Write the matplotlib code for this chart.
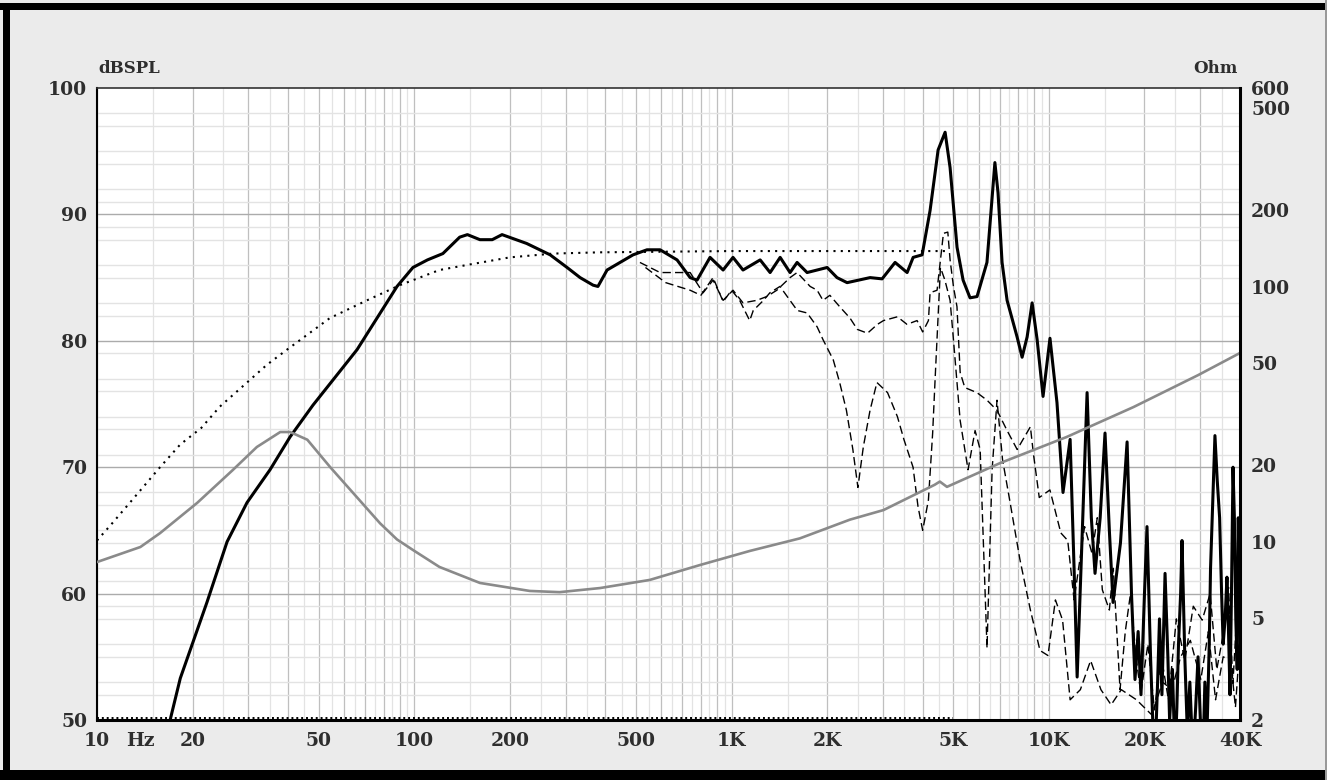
import numpy as np
import matplotlib
matplotlib.use('Agg')
import matplotlib.pyplot as plt
from matplotlib.patches import Rectangle
from matplotlib.ticker import NullLocator

# on-axis SPL, thick black (dB)
spl_f = [17, 18.3, 22.2, 25.7, 29.7, 35.1, 40.6, 47.9, 55.4, 66, 76.3, 88.2, 99, 110, 123,
         139, 147, 161, 176, 189, 226, 268, 303, 333, 366, 379, 405, 489, 541, 595, 673,
         740, 778, 855, 940, 1010, 1086, 1230, 1322, 1422, 1528, 1608, 1729, 2000, 2148,
         2311, 2731, 2980, 3274, 3573, 3733, 3984, 4220, 4474, 4707, 4880, 5133, 5363,
         5640, 5934, 6377, 6755, 6911, 7116, 7380, 7937, 8230, 8534, 8850, 9177, 9580,
         10075, 10600, 11074, 11660, 12000, 12270, 12700, 13188, 13600, 13970, 14500,
         15020, 15500, 15920, 16800, 17630, 18200, 18670, 19100, 19500, 20000, 20370,
         20900, 21300, 21590, 22000, 22300, 22700, 23220, 23700, 24000, 24500, 24960,
         25300, 25600, 26000, 26260, 26800, 27300, 27800, 28430, 29000, 29500, 30000,
         30500, 31000, 31480, 32000, 32300, 32800, 33350, 33900, 34500, 35000, 35400,
         35900, 36390, 36800, 37200, 37600, 38020, 38400, 38800, 39200, 39500, 39800, 40000]
spl_db = [50.0, 53.3, 59.3, 64.1, 67.2, 69.8, 72.4, 74.9, 76.9, 79.3, 81.8, 84.3, 85.8, 86.4, 86.9,
          88.2, 88.4, 88.0, 88.0, 88.4, 87.7, 86.8, 85.8, 85.0, 84.4, 84.3, 85.6, 86.8, 87.2, 87.2, 86.4,
          85.0, 84.8, 86.6, 85.6, 86.6, 85.6, 86.4, 85.4, 86.6, 85.4, 86.2, 85.4, 85.8, 85.0,
          84.6, 85.0, 84.9, 86.2, 85.4, 86.6, 86.8, 90.3, 95.1, 96.5, 93.7, 87.4, 84.8,
          83.4, 83.5, 86.2, 94.1, 91.7, 86.2, 83.2, 80.3, 78.7, 80.3, 83.0, 80.1, 75.6,
          80.2, 75.1, 68.0, 72.2, 62.0, 53.4, 64.0, 75.9, 66.0, 61.6, 66.0,
          72.7, 65.0, 59.3, 64.0, 72.0, 60.0, 53.2, 57.0, 52.0, 60.0, 65.3,
          55.0, 49.0, 47.0, 53.0, 58.0, 52.0, 61.6, 55.0, 50.0, 54.0, 47.0,
          51.0, 56.0, 60.0, 64.2, 55.0, 49.0, 53.0, 47.0, 51.0, 55.0, 50.0,
          46.0, 53.0, 49.0, 56.0, 62.0, 67.0, 72.5, 69.0, 66.0, 60.0, 56.0,
          58.0, 61.3, 57.0, 52.0, 60.0, 70.0, 66.0, 58.0, 54.0, 66.0, 60.0, 62.0]

# dotted curve
dot_f = [10, 11.2, 12.7, 15.8, 18.3, 21.3, 24.4, 29.7, 34.3, 39.7, 54.2, 70.9, 90, 120,
         146.6, 200, 274, 385, 1000, 2000, 4850]
dot_db = [64.2, 65.6, 67.2, 70.0, 71.8, 73.1, 74.8, 76.7, 78.1, 79.3, 81.8, 83.2, 84.4, 85.6,
          86.0, 86.6, 86.9, 87.0, 87.1, 87.1, 87.1]

# dotted floor at bottom
floor_f = [10, 5000]
floor_db = [50.15, 50.15]

# dashed off-axis curve 1
off1_f = [514, 595, 740, 813, 874, 940, 1010, 1086, 1200, 1290, 1388, 1528, 1608, 1768, 1860,
          1940, 2040, 2190, 2360, 2490, 2680, 2880, 3010, 3330, 3570, 3840, 4000, 4170, 4220,
          4440, 4650, 4800, 4880, 5000, 5130, 5250, 5430, 5930, 6380, 6860, 7380, 7940, 8740,
          8930, 9320, 10070, 10900, 11460, 12000, 12950, 13660, 14200, 14730, 15500, 15950,
          16750, 17400, 18070, 18800, 19480, 20500, 21500, 22600, 23800, 25200, 26800, 28500,
          30400, 32200, 33800, 35500, 36800, 38000, 39000, 40000]
off1_db = [86.2, 85.4, 85.4, 83.8, 84.8, 83.2, 84.0, 83.0, 83.2, 83.5, 84.0, 85.0, 85.4, 84.3, 84.0,
           83.2, 83.6, 82.7, 81.8, 80.9, 80.6, 81.3, 81.6, 81.9, 81.3, 81.6, 80.7, 81.6, 83.8,
           84.0, 88.5, 88.6, 86.4, 84.3, 82.7, 77.5, 76.3, 75.9, 75.3, 74.5, 72.9, 71.4, 73.2,
           71.1, 67.6, 68.2, 64.8, 64.2, 59.5, 65.3, 63.2, 66.0, 60.3, 58.7, 62.0,
           52.4, 57.0, 60.0, 55.0, 52.1, 56.0, 50.8, 55.0, 51.6, 58.0, 54.7, 59.0,
           57.9, 60.0, 54.0, 56.9, 60.5, 52.9, 58.0, 64.8]

# dashed off-axis curve 2
off2_f = [535, 620, 740, 800, 874, 940, 1000, 1060, 1140, 1170, 1260, 1320, 1420, 1610, 1730,
          1860, 1940, 2090, 2190, 2300, 2410, 2500, 2600, 2730, 2870, 3100, 3330, 3490, 3730,
          3866, 4000, 4170, 4300, 4380, 4550, 4700, 4880, 5000, 5250, 5560, 5850, 6070, 6380,
          6620, 6860, 7140, 7520, 8100, 8740, 9370, 9930, 10480, 11040, 11660, 12560, 13530,
          14580, 15700, 16900, 18870, 21100, 22800, 24400, 26000, 27900, 30100, 31800, 33500,
          35400, 37400, 38700, 40000]
off2_db = [85.8, 84.6, 84.0, 83.6, 85.0, 83.1, 84.0, 83.2, 81.6, 82.4, 83.2, 83.8, 84.3, 82.4, 82.2,
           81.1, 80.1, 78.5, 76.7, 74.5, 71.4, 68.4, 71.6, 74.5, 76.7, 75.9, 74.0, 72.2, 70.0,
           66.9, 65.0, 67.4, 72.7, 77.1, 85.8, 84.8, 83.2, 80.1, 73.7, 69.8, 72.9, 71.4, 55.7,
           69.8, 75.3, 70.6, 67.4, 62.7, 58.7, 55.5, 55.1, 59.5, 57.9, 51.6, 52.4, 54.7,
           52.4, 51.2, 52.4, 51.6, 50.4, 53.0, 52.4, 55.0, 56.3, 53.2, 57.0, 51.6,
           55.0, 54.7, 51.0, 56.3]

# impedance, gray (Ohm, right axis)
imp_f = [10, 13.7, 15.8, 20.7, 26.8, 31.9, 37.8, 40.6, 46.0, 54.3, 64.2, 78.0, 88.2, 99.1,
         120, 161, 231, 287, 385, 552, 795, 1142, 1640, 2360, 3010, 4360, 4530, 4770, 7000,
         11350, 18470, 29560, 40000]
imp_ohm = [8.32, 9.53, 10.8, 14.2, 19.1, 23.5, 26.9, 26.9, 25.1, 19.6, 15.5, 11.8, 10.2, 9.27,
           7.96, 6.89, 6.41, 6.34, 6.58, 7.08, 8.1, 9.2, 10.3, 12.2, 13.3, 16.7, 17.2, 16.4, 20.3,
           25.7, 33.7, 45.0, 54.9]

x_ticks = [10, 13.66, 20, 50, 100, 200, 500, 1000, 2000, 5000, 10000, 20000, 40000]
x_labels = ['10', 'Hz', '20', '50', '100', '200', '500', '1K', '2K', '5K', '10K', '20K', '40K']
db_ticks = [50, 60, 70, 80, 90, 100]
ohm_ticks = [2, 5, 10, 20, 50, 100, 200, 500, 600]

W, H = 1327, 780
fig = plt.figure(figsize=(W / 100, H / 100), dpi=100)
fig.patch.set_facecolor('#ebebeb')
ax = fig.add_axes([97 / W, 60 / H, 1143 / W, 632 / H])
ax.set_facecolor('white')
ax.set_xscale('log')
ax.set_xlim(10, 40000)
ax.set_ylim(50, 100)

# grid
for dec in [10, 100, 1000, 10000]:
    for m in range(1, 10):
        if m * dec <= 40000:
            ax.axvline(m * dec, color='#bfbfbf', lw=0.9, zorder=0)
    for m in np.arange(1.5, 10, 1.0):
        if m * dec <= 40000:
            ax.axvline(m * dec, color='#e3e3e3', lw=0.9, zorder=0)
for db in range(51, 100):
    if db % 10 == 0:
        ax.axhline(db, color='#ababab', lw=1.0, zorder=0)
    elif db % 3 != 0:
        ax.axhline(db, color='#e3e3e3', lw=1.0, zorder=0)

tfont = dict(family='DejaVu Serif', weight='bold', size=13.5, color='#2e2e2e')

ax.plot(floor_f, floor_db, color='black', lw=1.4, ls=(0, (1, 1.5)), zorder=3)
ax.plot(dot_f, dot_db, color='black', lw=1.5, ls=(0, (1, 2.5)), zorder=3)
ax.plot(off1_f, off1_db, color='black', lw=1.0, ls=(0, (6, 3)), zorder=3)
ax.plot(off2_f, off2_db, color='black', lw=1.0, ls=(0, (6, 3)), zorder=3)
ax.plot(spl_f, spl_db, color='black', lw=2.2, zorder=4)

ax.xaxis.set_minor_locator(NullLocator())
ax.set_xticks(x_ticks)
ax.set_xticklabels(x_labels, fontdict=tfont)
ax.set_yticks(db_ticks)
ax.set_yticklabels([str(v) for v in db_ticks], fontdict=tfont)
ax.tick_params(length=0)
ax.tick_params(axis='x', pad=9)
ax.tick_params(axis='y', pad=7)

ax2 = ax.twinx()
ax2.set_yscale('log')
ax2.set_ylim(2, 600)
ax2.plot(imp_f, imp_ohm, color='#8a8a8a', lw=1.9, zorder=2)
ax2.yaxis.set_minor_locator(NullLocator())
ax2.set_yticks(ohm_ticks)
ax2.set_yticklabels([str(v) for v in ohm_ticks], fontdict=tfont)
ax2.tick_params(length=0, pad=8)

for a in (ax, ax2):
    for s in a.spines.values():
        s.set_visible(False)
ax.spines['left'].set_visible(True)
ax.spines['left'].set_linewidth(1.5)
ax.spines['top'].set_visible(True)
ax.spines['top'].set_linewidth(1.2)
ax.spines['top'].set_color('#333333')
ax.spines['bottom'].set_visible(True)
ax.spines['bottom'].set_linewidth(2.2)
ax2.spines['right'].set_visible(True)
ax2.spines['right'].set_linewidth(2.2)

fig.text(98 / W, 1 - 73 / H, 'dBSPL', ha='left', va='baseline',
         family='DejaVu Serif', weight='bold', size=12, color='#2e2e2e')
fig.text(1238 / W, 1 - 73 / H, 'Ohm', ha='right', va='baseline',
         family='DejaVu Serif', weight='bold', size=12, color='#2e2e2e')

# outer frame
fig.add_artist(Rectangle((0, 1 - 10 / H), 1, 7 / H, transform=fig.transFigure, color='black', lw=0))
fig.add_artist(Rectangle((3 / W, 0), 7 / W, 1 - 3 / H, transform=fig.transFigure, color='black', lw=0))
fig.add_artist(Rectangle((0, 0), 1, 10 / H, transform=fig.transFigure, color='black', lw=0))
fig.add_artist(Rectangle((1325 / W, 0), 1.5 / W, 1, transform=fig.transFigure, color='#999999', lw=0))

fig.savefig('out.png', dpi=100, facecolor=fig.get_facecolor())
